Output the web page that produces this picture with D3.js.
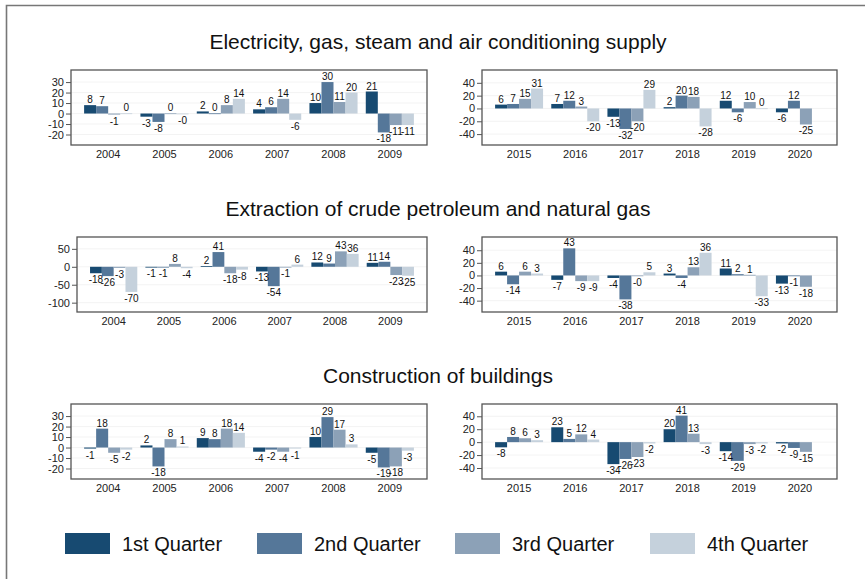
<!DOCTYPE html>
<html>
<head>
<meta charset="utf-8">
<script src="https://cdn.jsdelivr.net/npm/d3@7"></script>
<style>
	body { margin: 0; background: #fff; }
	svg { display: block; font-family: "Liberation Sans", Arial, Helvetica, sans-serif; }
	.tick text { fill: #222; }
</style>
</head>
<body>
<div class="js-chart"></div>
<script>
// quarters + colours
var quarters = ['1st Quarter', '2nd Quarter', '3rd Quarter', '4th Quarter'],
	quarterColors = ['#174a71', '#557799', '#8ca1b7', '#c5d1dc'];

var titles = [
	'Electricity, gas, steam and air conditioning supply',
	'Extraction of crude petroleum and natural gas',
	'Construction of buildings'
];

var yearsEarly = ['2004', '2005', '2006', '2007', '2008', '2009'],
	yearsLate = ['2015', '2016', '2017', '2018', '2019', '2020'];

// growth per quarter (%), one row per year; 0.2 / -0.2 are the "0" / "-0" labels
var elecEarly = [[8, 7, -1, 0.2], [-3, -8, 0.2, -0.2], [2, 0.2, 8, 14], [4, 6, 14, -6], [10, 30, 11, 20], [21, -18, -11, -11]];
var elecLate = [[6, 7, 15, 31], [7, 12, 3, -20], [-13, -32, -20, 29], [2, 20, 18, -28], [12, -6, 10, 0.2], [-6, 12, -25, null]];
var oilEarly = [[-18, -26, -3, -70], [-1, -1, 8, -4], [2, 41, -18, -8], [-13, -54, -1, 6], [12, 9, 43, 36], [11, 14, -23, -25]];
var oilLate = [[6, -14, 6, 3], [-7, 43, -9, -9], [-4, -38, -0.2, 5], [3, -4, 13, 36], [11, 2, 1, -33], [-13, -1, -18, null]];
var buildEarly = [[-1, 18, -5, -2], [2, -18, 8, 1], [9, 8, 18, 14], [-4, -2, -4, -1], [10, 29, 17, 3], [-5, -19, -18, -3]];
var buildLate = [[-8, 8, 6, 3], [23, 5, 12, 4], [-34, -26, -23, -2], [20, 41, 13, -3], [-14, -29, -3, -2], [-2, -9, -15, null]];

var ticksSmall = [-20, -10, 0, 10, 20, 30],
	ticksWide = [-100, -50, 0, 50],
	ticksLate = [-40, -20, 0, 20, 40];

var width = 865, height = 579;

var svg = d3.select('.js-chart').append('svg')
	.attr('width', width)
	.attr('height', height);

// outer frame (left + top edges only visible)
svg.append('path')
	.attr('d', 'M6.5,' + height + 'V5.5H' + width)
	.attr('fill', 'none')
	.attr('stroke', '#777')
	.attr('stroke-width', 1.6);

var rowTops = [70, 237, 404],
	boxH = 75;

var panels = [
	{row: 0, x0: 71, x1: 427, years: yearsEarly, data: elecEarly, domain: [-30, 41.5], ticks: ticksSmall},
	{row: 0, x0: 482, x1: 837, years: yearsLate, data: elecLate, domain: [-57, 60], ticks: ticksLate},
	{row: 1, x0: 77, x1: 427, years: yearsEarly, data: oilEarly, domain: [-126, 83], ticks: ticksWide},
	{row: 1, x0: 482, x1: 837, years: yearsLate, data: oilLate, domain: [-58, 61], ticks: ticksLate},
	{row: 2, x0: 71, x1: 427, years: yearsEarly, data: buildEarly, domain: [-30, 41.5], ticks: ticksSmall},
	{row: 2, x0: 482, x1: 837, years: yearsLate, data: buildLate, domain: [-57, 59], ticks: ticksLate}
];

titles.forEach(function(t, i) {
	svg.append('text')
		.attr('x', 438)
		.attr('y', rowTops[i] - 21)
		.attr('text-anchor', 'middle')
		.attr('font-size', 21)
		.attr('fill', '#111')
		.text(t);
});

function fmt(v) {
	var r = Math.abs(Math.round(v));
	return (v < 0 ? '-' : '') + r;
}

panels.forEach(function(p) {
	var top = rowTops[p.row],
		bottom = top + boxH;

	var x0 = d3.scaleBand()
		.domain(p.years)
		.range([p.x0 + 9, p.x1 - 9])
		.paddingInner(0.146)
		.paddingOuter(0.073);

	var x1 = d3.scaleBand()
		.domain(d3.range(4))
		.range([0, x0.bandwidth()]);

	var y = d3.scaleLinear()
		.domain(p.domain)
		.range([bottom, top]);

	var g = svg.append('g');

	// faint grid
	g.selectAll('line.grid')
		.data(p.ticks)
		.enter().append('line')
		.attr('class', 'grid')
		.attr('x1', p.x0).attr('x2', p.x1)
		.attr('y1', function(d) { return y(d); })
		.attr('y2', function(d) { return y(d); })
		.attr('stroke', '#f0f0f0')
		.attr('stroke-width', 0.8);

	var rows = p.data.map(function(vals, i) {
		return vals.map(function(v, q) {
			return {year: p.years[i], q: q, value: v};
		}).filter(function(d) { return d.value !== null; });
	});
	var bars = [].concat.apply([], rows);

	g.selectAll('rect.bar')
		.data(bars)
		.enter().append('rect')
		.attr('class', 'bar')
		.attr('x', function(d) { return x0(d.year) + x1(d.q); })
		.attr('width', x1.bandwidth())
		.attr('y', function(d) { return Math.min(y(d.value), y(0)); })
		.attr('height', function(d) { return Math.max(Math.abs(y(d.value) - y(0)), 0.8); })
		.attr('fill', function(d) { return quarterColors[d.q]; });

	g.selectAll('text.label')
		.data(bars)
		.enter().append('text')
		.attr('class', 'label')
		.attr('x', function(d) { return x0(d.year) + x1(d.q) + x1.bandwidth() / 2; })
		.attr('y', function(d) {
			return d.value >= 0 ? y(d.value) - 2 : y(d.value) + 10;
		})
		.attr('text-anchor', 'middle')
		.attr('font-size', 10)
		.attr('fill', '#111')
		.text(function(d) { return fmt(d.value); });

	// frame
	g.append('rect')
		.attr('x', p.x0).attr('y', top)
		.attr('width', p.x1 - p.x0).attr('height', boxH)
		.attr('fill', 'none')
		.attr('stroke', '#555')
		.attr('stroke-width', 1.3);

	var ya = g.append('g')
		.attr('transform', 'translate(' + p.x0 + ',0)')
		.call(d3.axisLeft(y).tickValues(p.ticks).tickSize(5).tickPadding(2)
			.tickFormat(function(d) { return String(d); }));
	ya.select('.domain').remove();
	ya.selectAll('.tick line').attr('stroke', '#555');
	ya.selectAll('.tick text').attr('font-size', 11).attr('font-family', null);

	var xa = g.append('g')
		.attr('transform', 'translate(0,' + bottom + ')')
		.call(d3.axisBottom(x0).tickSize(0).tickPadding(5));
	xa.select('.domain').remove();
	xa.selectAll('.tick text').attr('font-size', 11).attr('font-family', null);
});

// legend
var legendX = [65, 257, 455, 650];
var legend = svg.append('g').attr('class', 'legend');
quarters.forEach(function(q, i) {
	legend.append('rect')
		.attr('x', legendX[i]).attr('y', 533)
		.attr('width', 45).attr('height', 21)
		.attr('fill', quarterColors[i]);
	legend.append('text')
		.attr('x', legendX[i] + 57).attr('y', 551)
		.attr('font-size', 20)
		.attr('fill', '#111')
		.text(q);
});
</script>
</body>
</html>
